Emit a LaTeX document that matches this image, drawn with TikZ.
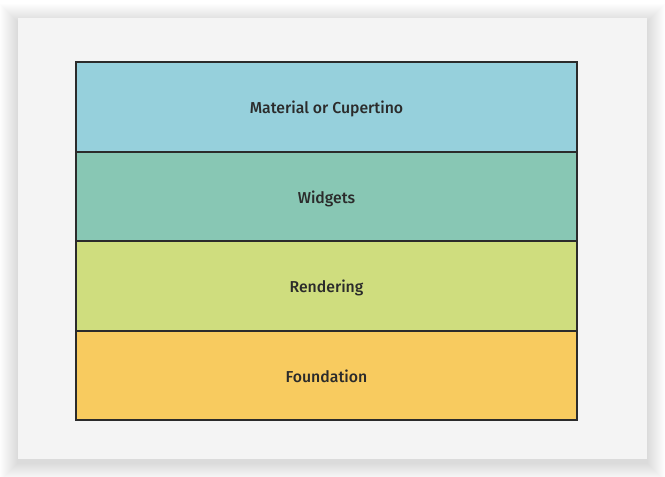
\documentclass[tikz,border=0pt]{standalone}
\usepackage{fontspec}
\setmainfont{Fira Sans}
\newfontfamily\layerfont{Fira Sans Medium}
\usetikzlibrary{positioning}
\definecolor{cardgray}{HTML}{F4F4F4}
\definecolor{edgegray}{HTML}{2B2B2B}
\definecolor{matblue}{HTML}{96D0DC}
\definecolor{widgetgreen}{HTML}{88C7B4}
\definecolor{renderlime}{HTML}{CFDD7E}
\definecolor{foundyellow}{HTML}{F8CB5F}
\begin{document}
\begin{tikzpicture}[x=1pt,y=-1pt]
\tikzset{layer/.style={draw=edgegray,line width=2pt,minimum width=501pt,minimum height=89.5pt,outer sep=0pt,inner sep=0pt,text height=14pt,text depth=0pt,text=edgegray,font=\layerfont\fontsize{15.8}{18}\selectfont}}
\useasboundingbox (0,0) rectangle (665,477);
\fill[white] (0,0) rectangle (665,477);
% soft shadow round the card
\foreach \i in {1,...,18}
  \fill[black,opacity=0.007] (18-\i,18-\i+4) rectangle (647+\i,459+\i+4);
\fill[cardgray] (18,18) rectangle (647,459);
\node[layer,fill=matblue,anchor=north west] (material) at (76,62) {Material or Cupertino};
\node[layer,fill=widgetgreen,below=0pt of material] (widgets) {Widgets};
\node[layer,fill=renderlime,below=0pt of widgets] (rendering) {Rendering};
\node[layer,fill=foundyellow,below=0pt of rendering] (foundation) {Foundation};
\end{tikzpicture}
\end{document}
